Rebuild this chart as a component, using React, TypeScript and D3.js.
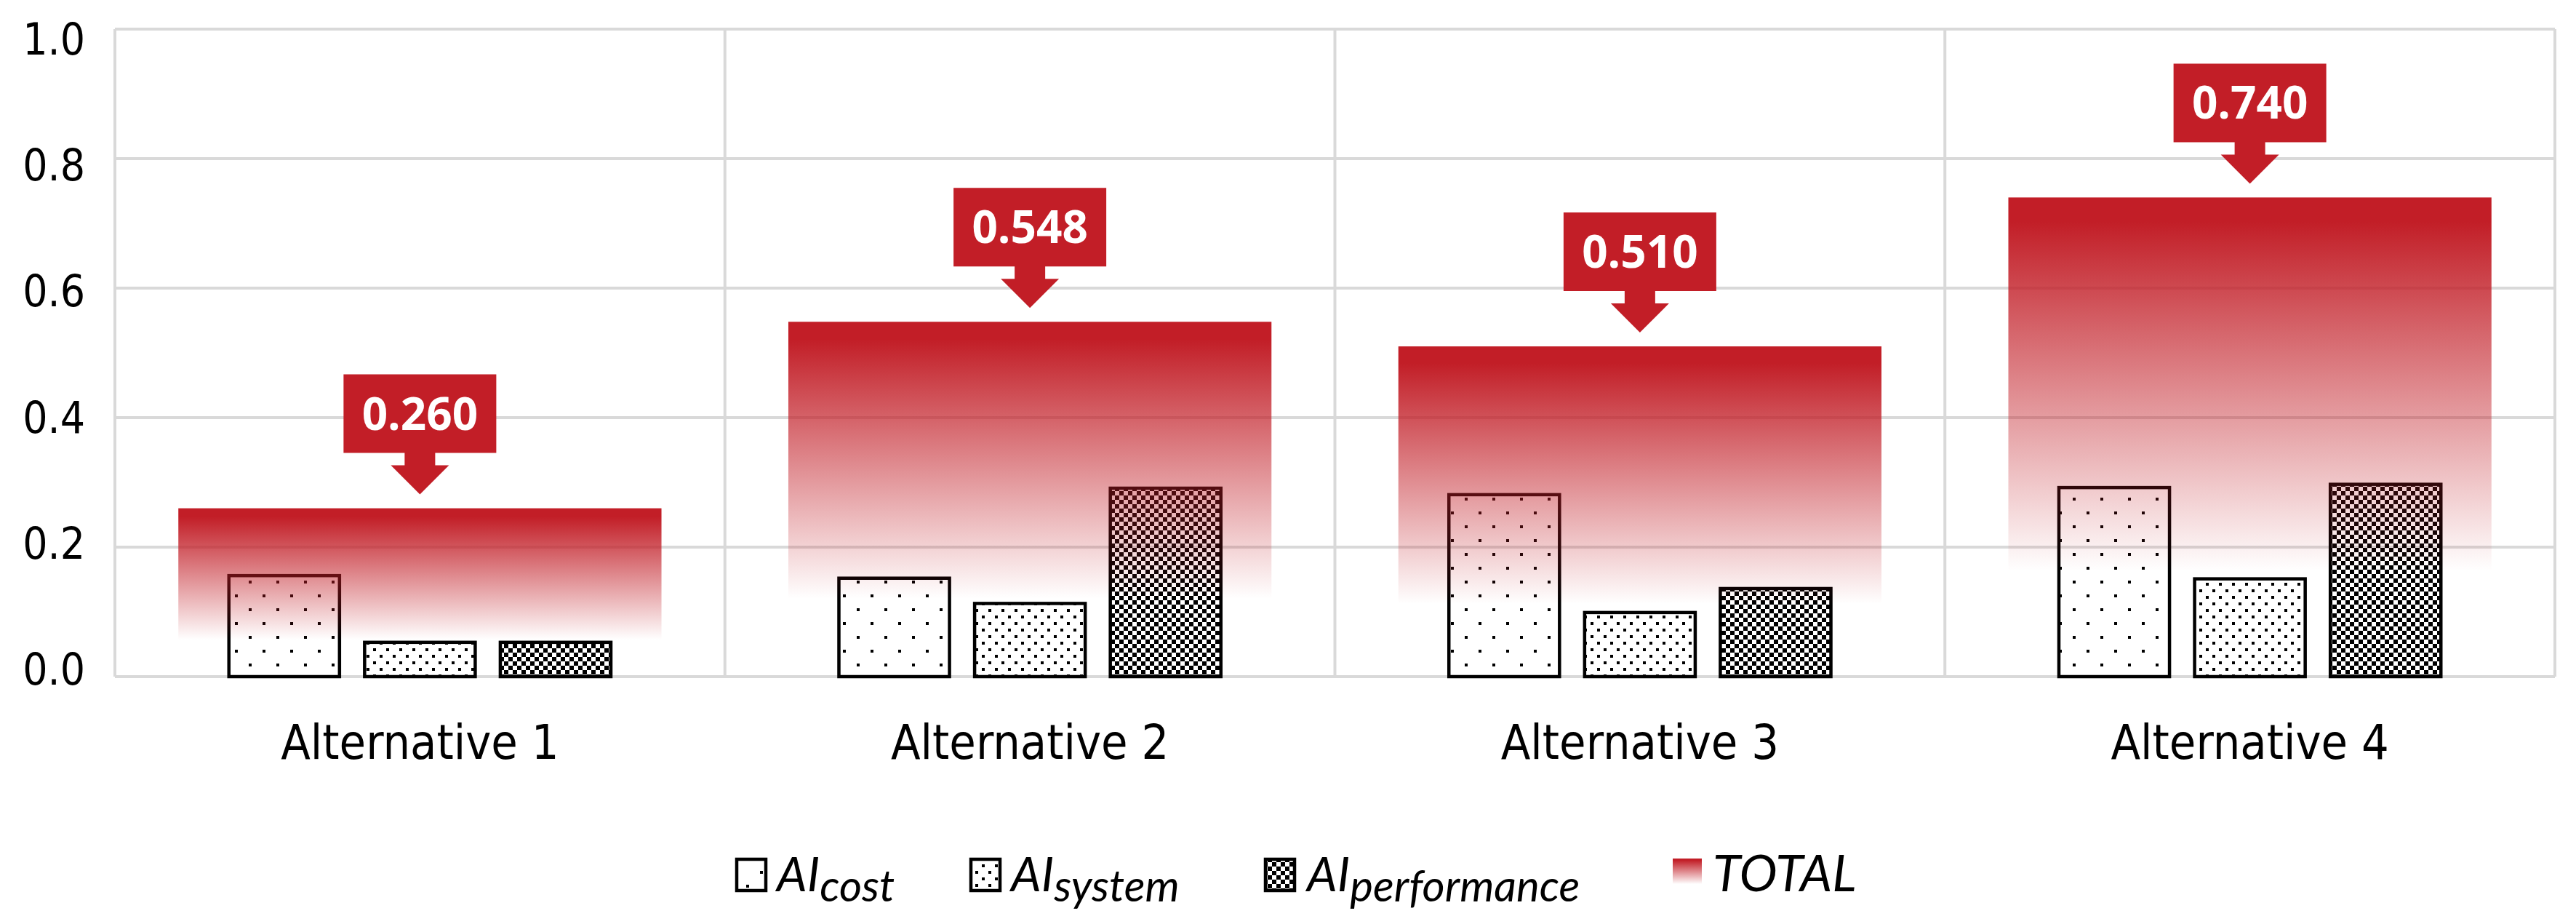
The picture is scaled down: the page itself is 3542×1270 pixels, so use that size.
import React from 'react';
import * as d3 from 'd3';

// ---- data ----
const categories = ['Alternative 1', 'Alternative 2', 'Alternative 3', 'Alternative 4'];
const seriesKeys = ['cost', 'system', 'performance'];
const aiCost = [0.156, 0.152, 0.281, 0.292];
const aiSystem = [0.053, 0.113, 0.099, 0.151];
const aiPerformance = [0.053, 0.291, 0.136, 0.297];
const total = [0.26, 0.548, 0.51, 0.74];
const yTicks = [0, 0.2, 0.4, 0.6, 0.8, 1.0];
const legendLabels = ['cost', 'system', 'performance'];

const RED = '#C21E27';
const GRID = '#d9d9d9';
const CAT_FONT = '"DejaVu Sans Condensed", "DejaVu Sans", sans-serif';
const LEG_FONT = 'Lato, "Open Sans", sans-serif';

export default function App() {
  const W = 3542, H = 1270;
  const L = 158, R = 3513, T = 40, B = 930;
  const y = d3.scaleLinear().domain([0, 1]).range([B, T]);
  const yLab = d3.scaleLinear().domain([0, 1]).range([919, 53]);
  const x0 = d3.scaleBand<string>().domain(categories).range([L, R]);
  const xTot = d3.scaleBand<string>().domain(categories).range([L, R]).paddingInner(0.208).paddingOuter(0.104);
  const x1 = d3.scaleBand<string>().domain(seriesKeys).range([0, x0.bandwidth()]).paddingInner(0.185).paddingOuter(0.84);
  const seriesValues = [aiCost, aiSystem, aiPerformance];
  const patIds = ['patCost', 'patSystem', 'patPerf'];
  const fmt = d3.format('.3f');
  const yFmt = d3.format('.1f');

  const callout = (cx: number, v: number) => {
    const tip = y(v) - 19;
    const triTop = tip - 40;
    const bb = tip - 57;
    const bt = bb - 108;
    const hw = 105, sw = 21, tw = 40;
    const p = d3.path();
    p.moveTo(cx - hw, bt);
    p.lineTo(cx + hw, bt);
    p.lineTo(cx + hw, bb);
    p.lineTo(cx + sw, bb);
    p.lineTo(cx + sw, triTop);
    p.lineTo(cx + tw, triTop);
    p.lineTo(cx, tip);
    p.lineTo(cx - tw, triTop);
    p.lineTo(cx - sw, triTop);
    p.lineTo(cx - sw, bb);
    p.lineTo(cx - hw, bb);
    p.closePath();
    return { d: p.toString(), cy: (bt + bb) / 2 };
  };

  const legendKeyX = [1013, 1335, 1740];
  const legendTextX = [1068, 1390, 1797];

  return (
    <svg width={W} height={H} style={{ position: 'absolute', left: 0, top: 0, background: '#fff' }}>
      <defs>
        <pattern id="patCost" patternUnits="userSpaceOnUse" width={38} height={38}>
          <rect x={0} y={0} width={4} height={4} fill="#000" />
          <rect x={19} y={19} width={4} height={4} fill="#000" />
        </pattern>
        <pattern id="patSystem" patternUnits="userSpaceOnUse" width={18} height={18}>
          <rect x={0} y={0} width={4} height={4} fill="#000" />
          <rect x={9} y={9} width={4} height={4} fill="#000" />
        </pattern>
        <pattern id="patPerf" patternUnits="userSpaceOnUse" width={12} height={12}>
          <rect x={0} y={0} width={3} height={3} fill="#000" />
          <rect x={9} y={0} width={3} height={3} fill="#000" />
          <rect x={3} y={3} width={6} height={6} fill="#000" />
          <rect x={0} y={9} width={3} height={3} fill="#000" />
          <rect x={9} y={9} width={3} height={3} fill="#000" />
        </pattern>
        <linearGradient id="gradTotal" x1="0" y1="0" x2="0" y2="1">
          <stop offset="0" stopColor={RED} stopOpacity={1} />
          <stop offset="0.05" stopColor={RED} stopOpacity={1} />
          <stop offset="0.78" stopColor={RED} stopOpacity={0} />
          <stop offset="1" stopColor={RED} stopOpacity={0} />
        </linearGradient>
      </defs>

      {/* grid */}
      {yTicks.map((t) => (
        <line key={'g' + t} x1={L} x2={R} y1={y(t)} y2={y(t)} stroke={GRID} strokeWidth={4} />
      ))}
      {categories.map((c) => (
        <line key={'v' + c} x1={x0(c)!} x2={x0(c)!} y1={T} y2={B} stroke={GRID} strokeWidth={4} />
      ))}
      <line x1={R} x2={R} y1={T} y2={B} stroke={GRID} strokeWidth={4} />

      {/* y labels */}
      {yTicks.map((t) => (
        <text key={'yl' + t} x={117} y={yLab(t) + 22} textAnchor="end" fontFamily={CAT_FONT} fontSize={60} fill="#000">
          {yFmt(t)}
        </text>
      ))}

      {/* patterned bars */}
      {categories.map((c, i) =>
        seriesKeys.map((k, s) => {
          const v = seriesValues[s][i];
          const bx = x0(c)! + x1(k)!;
          return (
            <rect key={c + k} x={bx} y={y(v)} width={x1.bandwidth()} height={B - y(v)}
              fill={`url(#${patIds[s]})`} stroke="#000" strokeWidth={4.5} />
          );
        })
      )}

      {/* total bars */}
      {categories.map((c, i) => (
        <rect key={'t' + c} x={xTot(c)!} y={y(total[i])} width={xTot.bandwidth()} height={B - y(total[i])} fill="url(#gradTotal)" />
      ))}

      {/* callouts */}
      {categories.map((c, i) => {
        const cx = x0(c)! + x0.bandwidth() / 2;
        const co = callout(cx, total[i]);
        return (
          <g key={'c' + c}>
            <path d={co.d} fill={RED} />
            <text x={cx} y={co.cy + 22} textAnchor="middle" fontFamily='"Open Sans", sans-serif' fontWeight={700} fontSize={62} fill="#fff">
              {fmt(total[i])}
            </text>
          </g>
        );
      })}

      {/* category labels */}
      {categories.map((c) => (
        <text key={'cl' + c} x={x0(c)! + x0.bandwidth() / 2} y={1043} textAnchor="middle" fontFamily={CAT_FONT} fontSize={66} fill="#000">
          {c}
        </text>
      ))}

      {/* legend */}
      {legendLabels.map((lab, s) => (
        <g key={'lg' + lab}>
          <rect x={legendKeyX[s]} y={1181} width={40} height={43} fill={`url(#${patIds[s]})`} stroke="#000" strokeWidth={4.5} />
          <text x={legendTextX[s]} y={1225} fontFamily={LEG_FONT} fontStyle="italic" fontSize={66} fill="#000">
            AI<tspan dy={14} fontSize={60}>{lab}</tspan>
          </text>
        </g>
      ))}
      <rect x={2300} y={1180} width={40} height={45} fill="url(#gradTotal)" />
      <text x={2355} y={1225} fontFamily={LEG_FONT} fontStyle="italic" fontSize={70} fill="#000">TOTAL</text>
    </svg>
  );
}
